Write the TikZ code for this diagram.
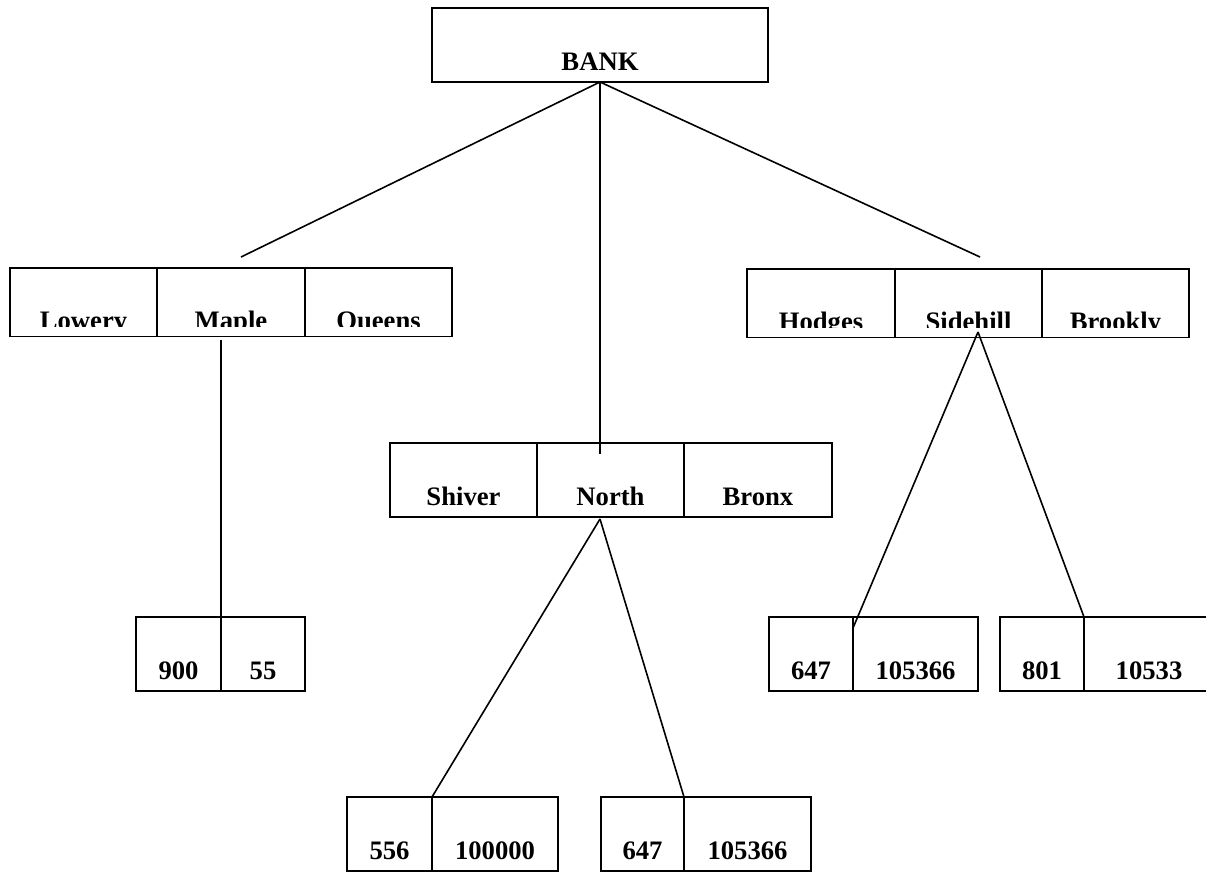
\documentclass[tikz,border=0pt]{standalone}
\usepackage{fontspec}
\setmainfont{Liberation Serif}
\usetikzlibrary{calc}
\begin{document}
\begin{tikzpicture}[x=0.75pt,y=-0.75pt,line width=1.2pt,
  cell/.style={draw,anchor=north west,inner sep=0pt,outer sep=0pt,minimum width=#1*0.75pt,
    text height=46.5pt,text depth=9pt,font=\fontsize{20}{22}\selectfont\bfseries},
  topcell/.style 2 args={draw,anchor=north west,inner sep=0pt,outer sep=0pt,minimum width=#1*0.75pt,minimum height=51.5pt,
    path picture={\clip ([yshift=7.5pt]path picture bounding box.south west) rectangle (path picture bounding box.north east);
      \node[anchor=base,inner sep=0pt,font=\fontsize{20}{22}\selectfont\bfseries] at ([yshift=5.5pt]path picture bounding box.south) {#2};}}]
      \useasboundingbox (0,0) rectangle (1206,872);
      \clip (0,0) rectangle (1206,872);
      \node[cell=336] (bank) at (432,8) {BANK};
      \node[topcell={147}{Lowery}] (lowery) at (10,268) {};
      \node[topcell={148}{Maple}]  (maple)  at (lowery.north east) {};
      \node[topcell={147}{Queens}] (queens) at (maple.north east) {};
      \node[topcell={148}{Hodges}]   (hodges)   at (747,269) {};
      \node[topcell={147}{Sidehill}] (sidehill) at (hodges.north east) {};
      \node[topcell={147}{Brookly}]  (brookly)  at (sidehill.north east) {};
      \node[cell=147] (shiver) at (390,443) {Shiver};
      \node[cell=147] (north)  at (shiver.north east) {North};
      \node[cell=148] (bronx)  at (north.north east) {Bronx};
      \node[cell=85] (a900) at (136,617) {900};
      \node[cell=84] (b55)  at (a900.north east) {55};
      \node[cell=85]  (a556)    at (347,797) {556};
      \node[cell=126] (b100000) at (a556.north east) {100000};
      \node[cell=83]  (c647)    at (601,797) {647};
      \node[cell=127] (d105366) at (c647.north east) {105366};
      \node[cell=84]  (e647)    at (769,617) {647};
      \node[cell=125] (f105366) at (e647.north east) {105366};
      \node[cell=84]  (g801)    at (1000,617) {801};
      \node[cell=130] (h10533)  at (g801.north east) {10533};
      \coordinate (bankleft)  at (241,257);
      \coordinate (bankmid)   at (600,454);
      \coordinate (bankright) at (980,257);
      \draw (bank.south) -- (bankleft);
      \draw (bank.south) -- (bankmid);
      \draw (bank.south) -- (bankright);
      \coordinate (mapletip) at (221,340);
      \draw (mapletip) -- (a900.north east);
      \coordinate (northtip) at (600,519);
      \draw (northtip) -- (a556.north east);
      \draw (northtip) -- (c647.north east);
      \coordinate (sidetip) at (978,332);
      \coordinate (sideend) at (853,628);
      \draw (sidetip) -- (sideend);
      \draw (sidetip) -- (g801.north east);
    \end{tikzpicture}
\end{document}
